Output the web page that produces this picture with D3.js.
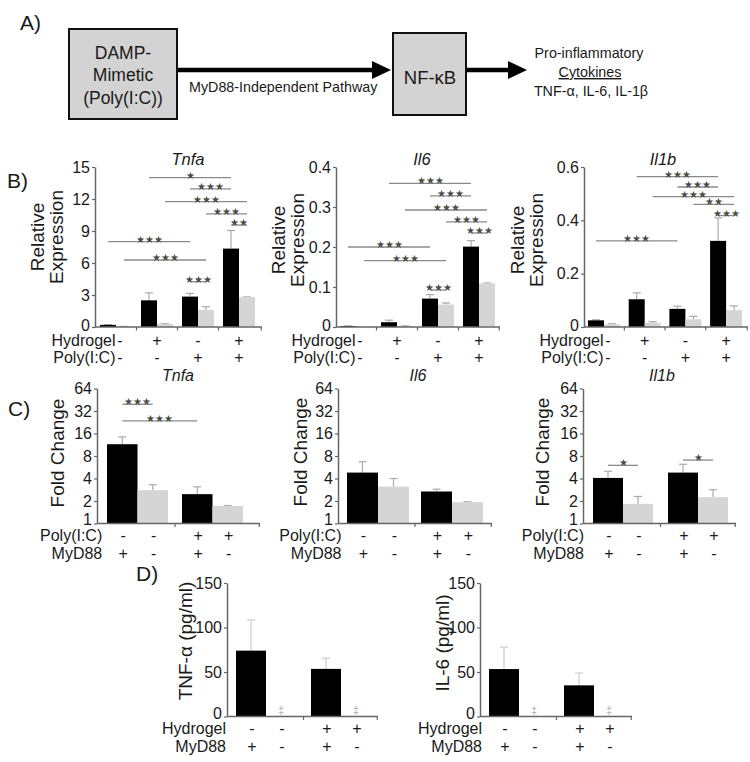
<!DOCTYPE html>
<html><head><meta charset="utf-8">
<script src="https://cdn.jsdelivr.net/npm/d3@7"></script>
<style>
body{margin:0;background:#fff}
svg{display:block}
text{font-family:"Liberation Sans",Arial,sans-serif}
</style>
</head><body>
<svg id="fig" width="750" height="762"></svg>
<script>
// ---------------- DATA ----------------
// Panel B: relative expression
const groupsB = ["g1", "g2", "g3", "g4"];
const hydrogelSignsB = ["-", "+", "-", "+"];
const polySignsB = ["-", "-", "+", "+"];

const tnfaB_black = [0.2, 2.5, 2.85, 7.35];
const tnfaB_blackErr = [0.22, 3.2, 3.15, 9.05];
const tnfaB_gray = [0.05, 0.3, 1.6, 2.8];
const tnfaB_grayErr = [0.06, 0.32, 1.9, 2.82];
const tnfaB_ticks = [0, 3, 6, 9, 12, 15];
const tnfaB_sig = [[2, 6, 14.0, "★"], [4, 6, 12.94, "★★★"], [3, 7, 11.75, "★★★"], [5, 7, 10.6, "★★★"],
                   [6, 7, 9.56, "★★"], [0, 4, 8.0, "★★★"], [1, 5, 6.28, "★★★"], [4, 5, 4.25, "★★★"]];

const il6B_black = [0.002, 0.012, 0.071, 0.201];
const il6B_blackErr = [0.003, 0.017, 0.081, 0.216];
const il6B_gray = [0.001, 0.002, 0.056, 0.109];
const il6B_grayErr = [0.001, 0.003, 0.06, 0.11];
const il6B_ticks = [0, 0.1, 0.2, 0.3, 0.4];
const il6B_sig = [[2, 6, 0.359, "★★★"], [4, 6, 0.328, "★★★"], [3, 7, 0.2925, "★★★"], [5, 7, 0.263, "★★★"],
                  [6, 7, 0.235, "★★★"], [0, 4, 0.2, "★★★"], [1, 5, 0.166, "★★★"], [4, 5, 0.0925, "★★★"]];

const il1bB_black = [0.025, 0.104, 0.068, 0.323];
const il1bB_blackErr = [0.027, 0.128, 0.078, 0.409];
const il1bB_gray = [0.01, 0.016, 0.029, 0.063];
const il1bB_grayErr = [0.012, 0.02, 0.04, 0.079];
const il1bB_ticks = [0, 0.2, 0.4, 0.6];
const il1bB_sig = [[2, 6, 0.5636, "★★★"], [4, 6, 0.525, "★★★"], [3, 7, 0.4886, "★★★"], [5, 7, 0.46, "★★"],
                   [6, 7, 0.418, "★★★"], [0, 4, 0.323, "★★★"]];

// Panel C: fold change (black = MyD88+, grey = MyD88-)
const groupsC = ["g1", "g2"];
const polySignsC = ["-", "-", "+", "+"];
const myd88SignsC = ["+", "-", "+", "-"];
const foldTicks = [1, 2, 4, 8, 16, 32, 64];

const tnfaC_black = [11.5, 2.47];
const tnfaC_blackErr = [14.4, 3.1];
const tnfaC_gray = [2.79, 1.72];
const tnfaC_grayErr = [3.3, 1.74];
const tnfaC_sig = [[0, 1, 39.4, "★★★"], [0, 2, 23.6, "★★★"]];

const il6C_black = [4.8, 2.68];
const il6C_blackErr = [6.7, 2.88];
const il6C_gray = [3.12, 1.93];
const il6C_grayErr = [4.0, 1.95];
const il6C_sig = [];

const il1bC_black = [4.07, 4.8];
const il1bC_blackErr = [5.0, 6.2];
const il1bC_gray = [1.83, 2.25];
const il1bC_grayErr = [2.3, 2.83];
const il1bC_sig = [[0, 1, 6.0, "★"], [2, 3, 7.06, "★"]];

// Panel D: protein (pg/ml); grey bars not detected (‡)
const groupsD = ["g1", "g2"];
const hydrogelSignsD = ["-", "-", "+", "+"];
const myd88SignsD = ["+", "-", "+", "-"];
const pgTicks = [0, 50, 100, 150];
const tnfD_black = [74, 53.5];
const tnfD_blackErr = [108.5, 65.5];
const tnfD_gray = [0, 0];
const il6D_black = [53.3, 35];
const il6D_blackErr = [78, 48.8];
const il6D_gray = [0, 0];

// ---------------- DRAWING ----------------
const svg = d3.select("#fig");
const AX = "#666";

function chart(o) {
  const g = svg.append("g");
  const y = o.y;
  const n = o.groups.length;
  const start = o.x0 + o.offset;
  const x = d3.scaleBand().domain(o.groups)
    .range([start, start + (n - 1) * o.step + o.bw])
    .paddingInner((o.step - o.bw) / o.step).paddingOuter(0);
  const sub = d3.scaleBand().domain(["black", "gray"]).range([0, x.bandwidth()]);
  const bars = [];
  o.groups.forEach((gn, i) => {
    bars.push({x: x(gn) + sub("black"), w: sub.bandwidth(), v: o.black[i], e: o.blackErr[i], c: "#000"});
    bars.push({x: x(gn) + sub("gray"), w: sub.bandwidth(), v: o.gray[i], e: o.grayErr ? o.grayErr[i] : null, c: "#d5d5d5"});
  });
  const base = y.domain()[0];
  const eb = bars.filter(b => b.e != null && b.v > base && b.e > b.v);
  g.selectAll("line.err").data(eb).join("line").attr("class", "err")
    .attr("x1", b => b.x + b.w / 2).attr("x2", b => b.x + b.w / 2)
    .attr("y1", b => y(b.v)).attr("y2", b => y(b.e))
    .attr("stroke", o.errColor || "#aaa").attr("stroke-width", 1.2);
  g.selectAll("line.cap").data(eb).join("line").attr("class", "cap")
    .attr("x1", b => b.x + b.w / 2 - 4).attr("x2", b => b.x + b.w / 2 + 4)
    .attr("y1", b => y(b.e)).attr("y2", b => y(b.e))
    .attr("stroke", o.errColor || "#aaa").attr("stroke-width", 1.2);
  g.selectAll("rect").data(bars.filter(b => b.v > base)).join("rect")
    .attr("x", b => b.x).attr("width", b => b.w)
    .attr("y", b => y(b.v)).attr("height", b => y(base) - y(b.v))
    .attr("fill", b => b.c);
  if (o.ndMark) {
    g.selectAll("text.nd").data(bars.filter(b => b.c !== "#000" && !(b.v > base))).join("text")
      .attr("class", "nd").attr("x", b => b.x + b.w / 2).attr("y", y(base) - 3)
      .attr("text-anchor", "middle").attr("font-size", 11).attr("fill", "#888").attr("opacity", 0.7)
      .attr("font-family", '"DejaVu Sans",sans-serif').text("‡");
  }
  const ya = g.append("g").attr("transform", `translate(${o.x0},0)`)
    .call(d3.axisLeft(y).tickValues(o.ticks).tickFormat(o.fmt).tickSize(3).tickSizeOuter(0).tickPadding(2));
  ya.select(".domain").attr("stroke", AX).attr("stroke-width", 1.5);
  ya.selectAll(".tick line").attr("stroke", AX).attr("stroke-width", 1.2);
  ya.selectAll(".tick text").attr("font-size", 16).attr("fill", "#1a1a1a")
    .attr("font-family", '"Liberation Sans",Arial,sans-serif')
    .attr("dy", d => d === base ? (o.baseDy || "0.2em") : "0.32em");
  g.append("line").attr("x1", o.x0).attr("x2", o.xEnd).attr("y1", y(base)).attr("y2", y(base))
    .attr("stroke", AX).attr("stroke-width", 1.5);
  const mids = o.groups.slice(0, -1).map(gn => x(gn) + x.bandwidth() + (o.step - o.bw) / 2);
  mids.push(o.xEnd - 0.75);
  g.selectAll("line.mt").data(mids).join("line").attr("class", "mt")
    .attr("x1", d => d).attr("x2", d => d).attr("y1", y(base)).attr("y2", y(base) + 3.5)
    .attr("stroke", AX).attr("stroke-width", 1.2);
  const cx = i => bars[i].x + bars[i].w / 2;
  o.sig.forEach(s => {
    const ly = y(s[2]);
    g.append("line").attr("x1", cx(s[0])).attr("x2", cx(s[1])).attr("y1", ly).attr("y2", ly)
      .attr("stroke", "#8a8a8a").attr("stroke-width", 1.3);
    g.append("text").attr("x", (cx(s[0]) + cx(s[1])) / 2).attr("y", ly + 1)
      .attr("text-anchor", "middle").attr("font-size", 9.5).attr("fill", "#4a4a4a")
      .attr("font-family", '"DejaVu Sans",sans-serif').text(s[3]);
  });
  if (o.title) {
    g.append("text").attr("x", o.titleX).attr("y", o.titleY).attr("text-anchor", "middle")
      .attr("font-size", o.titleSize || 17).attr("font-style", "italic").attr("fill", "#1a1a1a").text(o.title);
  }
  o.ylab.forEach(l => {
    g.append("text").attr("transform", `translate(${l.x},${o.ylabY}) rotate(-90)`)
      .attr("text-anchor", "middle").attr("dominant-baseline", "central")
      .attr("font-size", 19).attr("fill", "#1a1a1a").text(l.t);
  });
  const signX = o.signAt === "group"
    ? o.groups.map((gn, i) => x(gn) + x.bandwidth() / 2 + (i === 0 ? 4 : 0))
    : bars.map(b => b.x + b.w / 2 + 1);
  o.rows.forEach(r => {
    g.append("text").attr("x", signX[0] - (o.labelGap || 4.5)).attr("y", r.y).attr("text-anchor", "end")
      .attr("font-size", 16).attr("fill", "#1a1a1a").text(r.label);
    g.selectAll(null).data(r.signs).join("text")
      .attr("x", (d, i) => signX[i]).attr("y", r.y).attr("text-anchor", "middle")
      .attr("font-size", 16).attr("fill", "#1a1a1a").text(d => d);
  });
}

const fmtDec = d => d === 0 ? "0" : d3.format(".1f")(d);
const yB = dom => d3.scaleLinear().domain(dom).range([327, 167]);
const yC = () => d3.scaleLog().base(2).domain([1, 64]).range([523.5, 388.5]);
const yD = () => d3.scaleLinear().domain([0, 150]).range([716.5, 583]);
const rowsB = [{label: "Hydrogel", signs: hydrogelSignsB, y: 346}, {label: "Poly(I:C)", signs: polySignsB, y: 363}];
const rowsC = [{label: "Poly(I:C)", signs: polySignsC, y: 541}, {label: "MyD88", signs: myd88SignsC, y: 559}];
const rowsD = [{label: "Hydrogel", signs: hydrogelSignsD, y: 734}, {label: "MyD88", signs: myd88SignsD, y: 752}];

// Panel B
chart({x0: 95, xEnd: 262, offset: 5, step: 41, bw: 32, y: yB([0, 15]), groups: groupsB,
  black: tnfaB_black, blackErr: tnfaB_blackErr, gray: tnfaB_gray, grayErr: tnfaB_grayErr,
  ticks: tnfaB_ticks, fmt: d3.format("d"), sig: tnfaB_sig, title: "Tnfa", titleX: 188, titleY: 165, titleSize: 16.5,
  ylab: [{t: "Relative", x: 37}, {t: "Expression", x: 56}], ylabY: 237, rows: rowsB, signAt: "group"});
chart({x0: 336, xEnd: 500, offset: 4, step: 41, bw: 32, y: yB([0, 0.4]), groups: groupsB,
  black: il6B_black, blackErr: il6B_blackErr, gray: il6B_gray, grayErr: il6B_grayErr,
  ticks: il6B_ticks, fmt: fmtDec, sig: il6B_sig, title: "Il6", titleX: 422, titleY: 165, titleSize: 16.5,
  ylab: [{t: "Relative", x: 278}, {t: "Expression", x: 297}], ylabY: 240, rows: rowsB, signAt: "group"});
chart({x0: 584, xEnd: 748, offset: 4, step: 40.7, bw: 32, y: yB([0, 0.6]), groups: groupsB,
  black: il1bB_black, blackErr: il1bB_blackErr, gray: il1bB_gray, grayErr: il1bB_grayErr,
  ticks: il1bB_ticks, fmt: fmtDec, sig: il1bB_sig, title: "Il1b", titleX: 663, titleY: 165, titleSize: 16.5,
  ylab: [{t: "Relative", x: 517}, {t: "Expression", x: 536}], ylabY: 240, rows: rowsB, signAt: "group"});

// Panel C
chart({x0: 97, xEnd: 260, offset: 10, step: 75, bw: 61, y: yC(), groups: groupsC,
  black: tnfaC_black, blackErr: tnfaC_blackErr, gray: tnfaC_gray, grayErr: tnfaC_grayErr,
  ticks: foldTicks, fmt: d3.format("d"), sig: tnfaC_sig, title: "Tnfa", titleX: 178, titleY: 381, titleSize: 16,
  baseDy: "0.05em",
  ylab: [{t: "Fold Change", x: 57}], ylabY: 453, rows: rowsC, signAt: "bar", labelGap: 21});
chart({x0: 338, xEnd: 492, offset: 9, step: 74, bw: 62, y: yC(), groups: groupsC,
  black: il6C_black, blackErr: il6C_blackErr, gray: il6C_gray, grayErr: il6C_grayErr,
  ticks: foldTicks, fmt: d3.format("d"), sig: il6C_sig, title: "Il6", titleX: 418, titleY: 381, titleSize: 16,
  baseDy: "0.05em",
  ylab: [{t: "Fold Change", x: 300}], ylabY: 452, rows: rowsC, signAt: "bar", labelGap: 22});
chart({x0: 583, xEnd: 736, offset: 10, step: 75, bw: 60, y: yC(), groups: groupsC,
  black: il1bC_black, blackErr: il1bC_blackErr, gray: il1bC_gray, grayErr: il1bC_grayErr,
  ticks: foldTicks, fmt: d3.format("d"), sig: il1bC_sig, title: "Il1b", titleX: 662, titleY: 381, titleSize: 16,
  baseDy: "0.05em",
  ylab: [{t: "Fold Change", x: 542}], ylabY: 452, rows: rowsC, signAt: "bar", labelGap: 25});

// Panel D
chart({x0: 227, xEnd: 378, offset: 9, step: 75, bw: 60, y: yD(), groups: groupsD,
  black: tnfD_black, blackErr: tnfD_blackErr, gray: tnfD_gray, grayErr: null, errColor: "#ccc", ndMark: true,
  ticks: pgTicks, fmt: d3.format("d"), sig: [], title: null, baseDy: "0.1em",
  ylab: [{t: "TNF-α (pg/ml)", x: 185}], ylabY: 641, rows: rowsD, signAt: "bar", labelGap: 26});
chart({x0: 480, xEnd: 632, offset: 9, step: 75, bw: 60, y: yD(), groups: groupsD,
  black: il6D_black, blackErr: il6D_blackErr, gray: il6D_gray, grayErr: null, errColor: "#ccc", ndMark: true,
  ticks: pgTicks, fmt: d3.format("d"), sig: [], title: null, baseDy: "0.1em",
  ylab: [{t: "IL-6 (pg/ml)", x: 442}], ylabY: 643, rows: rowsD, signAt: "bar", labelGap: 23});

// Panel letters
[["A)", 20, 30], ["B)", 7, 188], ["C)", 8, 416], ["D)", 136, 581]].forEach(p => {
  svg.append("text").attr("x", p[1]).attr("y", p[2]).attr("font-size", 21).attr("fill", "#1a1a1a").text(p[0]);
});

// Panel A diagram
const A = svg.append("g");
A.append("rect").attr("x", 69).attr("y", 29).attr("width", 108).attr("height", 90)
  .attr("fill", "#d3d3d3").attr("stroke", "#111").attr("stroke-width", 2);
[["DAMP-", 53], ["Mimetic", 75], ["(Poly(I:C))", 98]].forEach(t => {
  A.append("text").attr("x", 123).attr("y", t[1]).attr("text-anchor", "middle")
    .attr("dominant-baseline", "central").attr("font-size", 17.5).attr("fill", "#1a1a1a").text(t[0]);
});
A.append("rect").attr("x", 393).attr("y", 33).attr("width", 73).attr("height", 82)
  .attr("fill", "#d3d3d3").attr("stroke", "#111").attr("stroke-width", 2);
A.append("text").attr("x", 430).attr("y", 77).attr("text-anchor", "middle")
  .attr("dominant-baseline", "central").attr("font-size", 18.5).attr("fill", "#1a1a1a").text("NF-κB");
function arrow(x1, x2, yy) {
  A.append("line").attr("x1", x1).attr("x2", x2 - 17).attr("y1", yy).attr("y2", yy)
    .attr("stroke", "#000").attr("stroke-width", 4.5);
  A.append("path").attr("d", `M${x2 - 19},${yy - 9}L${x2},${yy}L${x2 - 19},${yy + 9}Z`).attr("fill", "#000");
}
arrow(178, 391, 70);
arrow(467, 527, 70);
A.append("text").attr("x", 189).attr("y", 92).attr("font-size", 14.3).attr("fill", "#1a1a1a")
  .text("MyD88-Independent Pathway");
A.append("text").attr("x", 589).attr("y", 58).attr("text-anchor", "middle").attr("font-size", 14.3)
  .attr("fill", "#1a1a1a").text("Pro-inflammatory");
A.append("text").attr("x", 590).attr("y", 77).attr("text-anchor", "middle").attr("font-size", 14.3)
  .attr("fill", "#1a1a1a").attr("text-decoration", "underline").text("Cytokines");
A.append("text").attr("x", 591).attr("y", 96).attr("text-anchor", "middle").attr("font-size", 14.3)
  .attr("fill", "#1a1a1a").text("TNF-α, IL-6, IL-1β");
</script>
</body></html>
